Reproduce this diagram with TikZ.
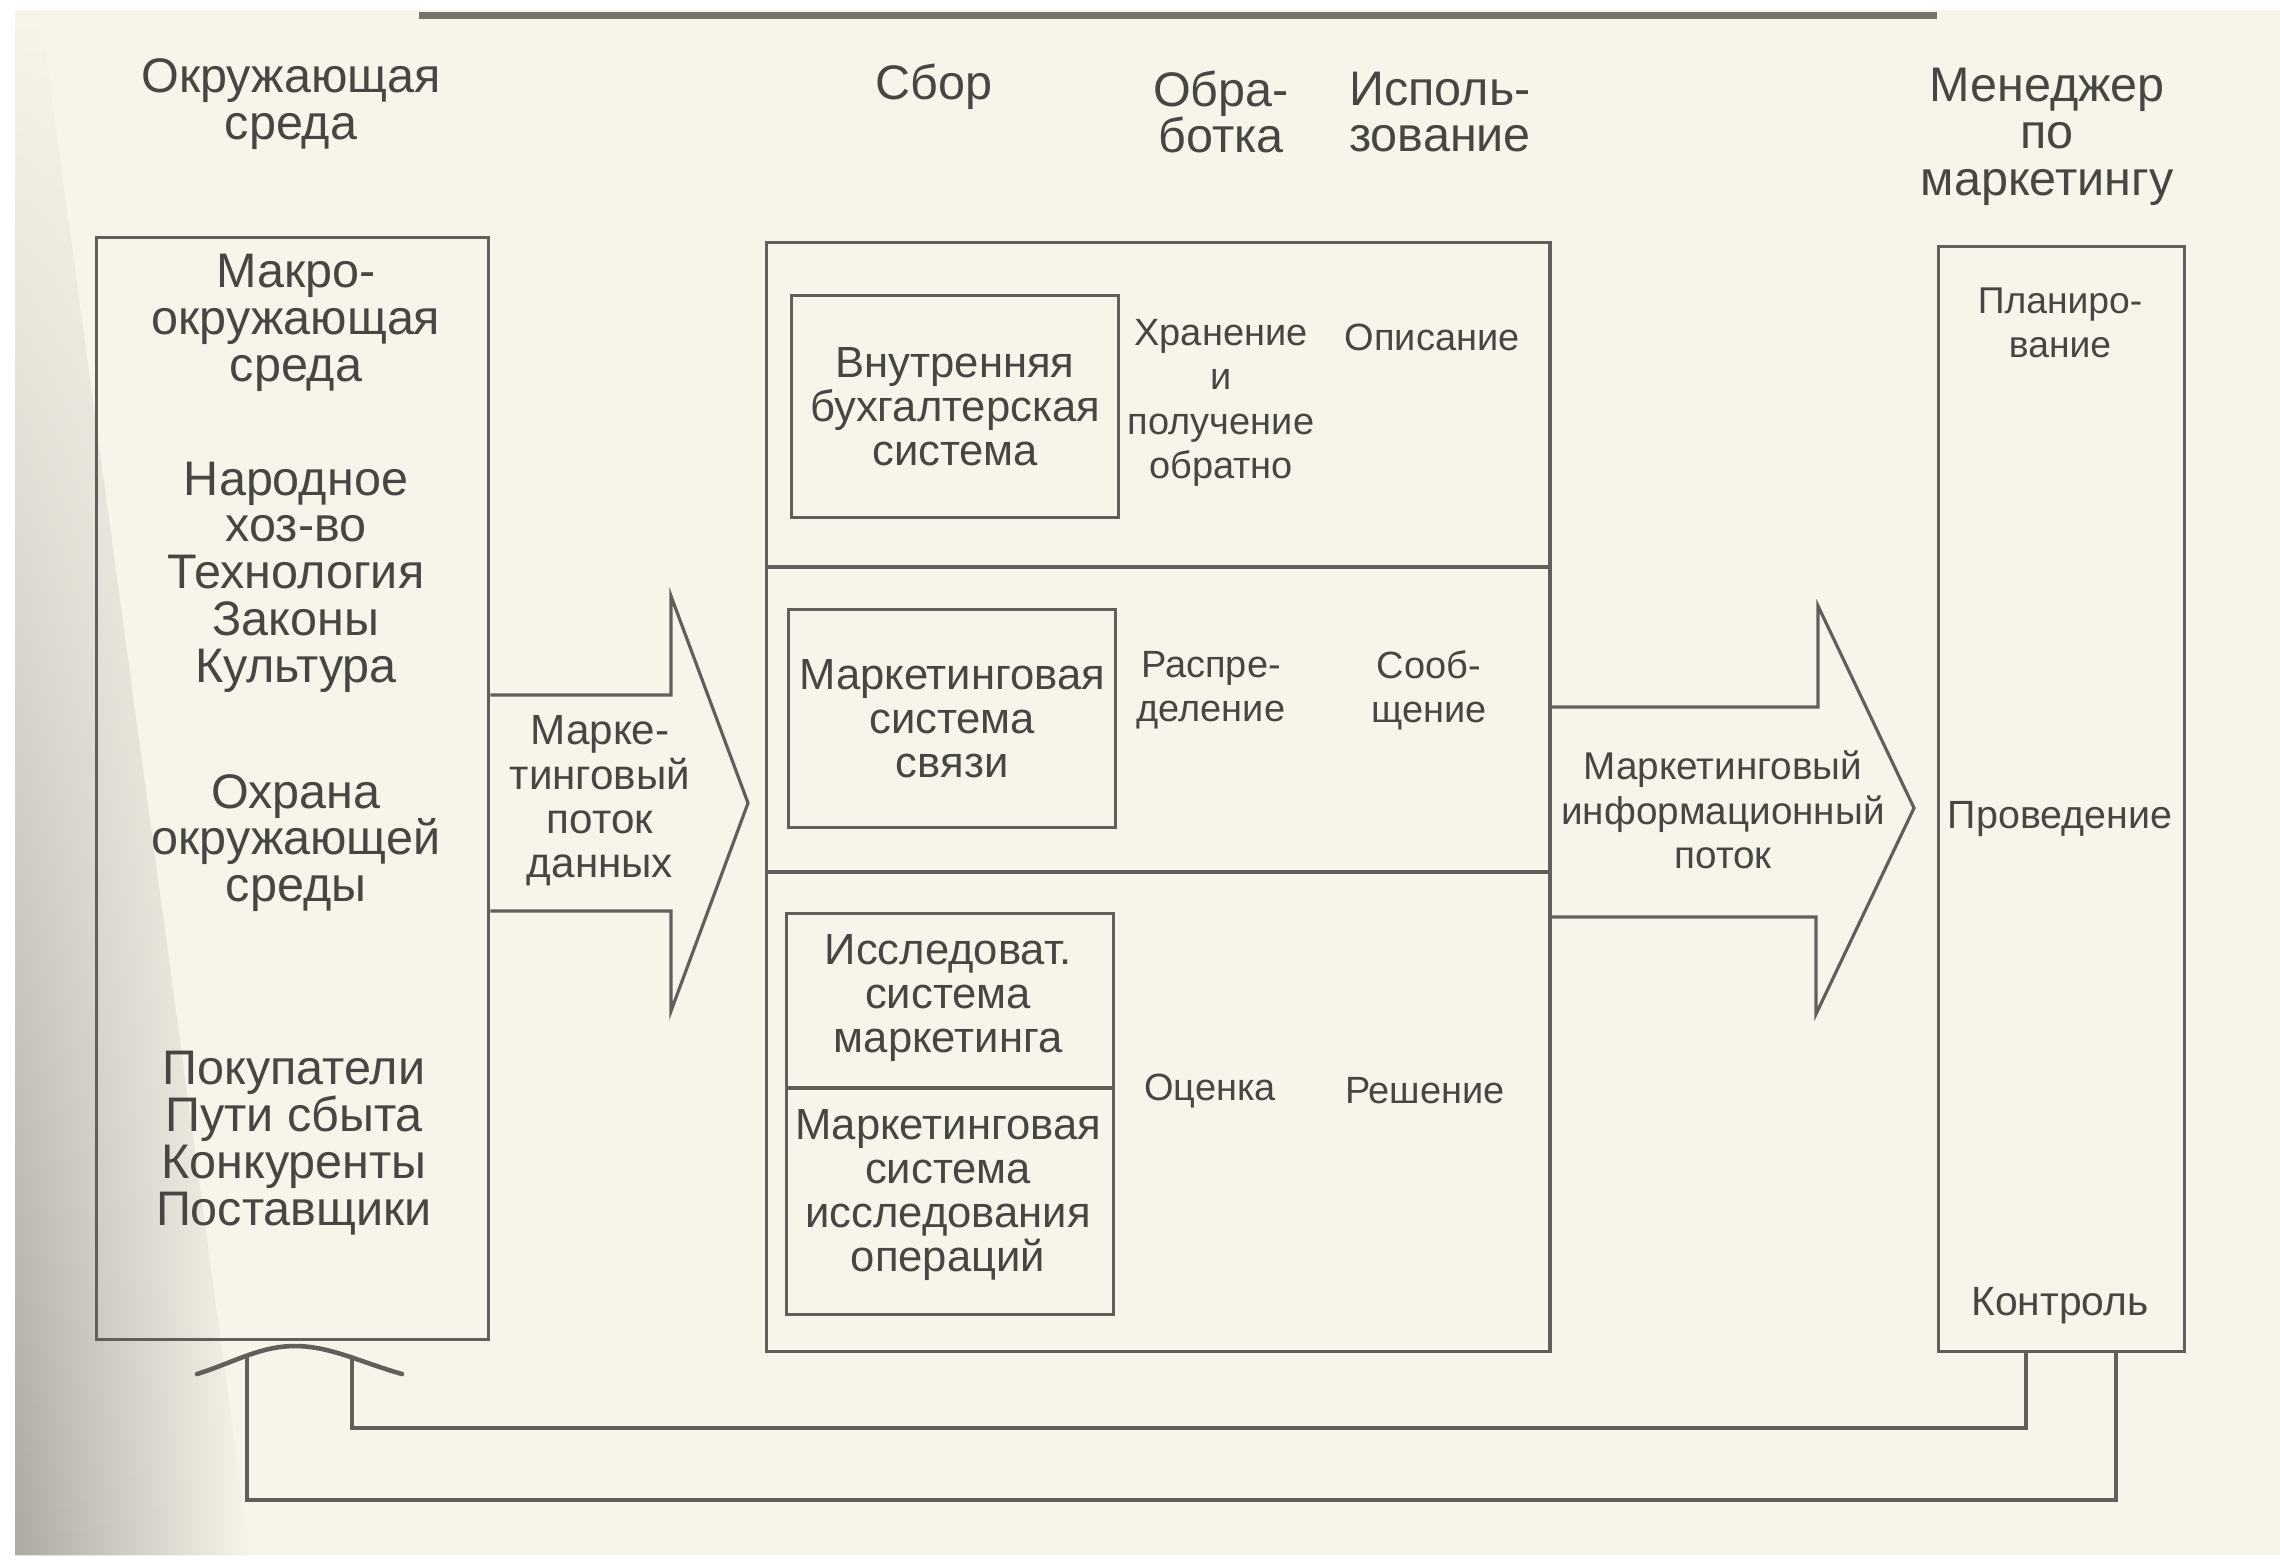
\documentclass[tikz,border=0pt]{standalone}
\usepackage{fontspec}
\setmainfont{Liberation Sans}
\usetikzlibrary{calc,fadings}
\definecolor{paper}{RGB}{247,245,234}
\definecolor{shadow}{RGB}{172,169,161}
\definecolor{ink}{RGB}{98,95,90}
\definecolor{txt}{RGB}{72,70,66}
\definecolor{bar}{RGB}{118,114,108}
% font size with a fixed, tight line pitch
\newcommand\setfs[2]{\fontsize{#1}{#2}\selectfont\lineskiplimit=-\maxdimen}
\begin{document}
\begin{tikzpicture}[x=0.01cm,y=-0.01cm,
  box/.style={draw=ink, line width=0.9pt, inner sep=0pt, anchor=north west},
  lbl/.style={text=txt, align=center, inner sep=0pt},
  big/.style={lbl, font=\setfs{13.8}{13.3}},
  mid/.style={lbl, font=\setfs{12.4}{12.6}},
  small/.style={lbl, font=\setfs{10.8}{12.6}},
  wire/.style={draw=ink, line width=0.9pt, line join=miter}]
\useasboundingbox (0,0) rectangle (2280,1562);
% paper, with the shadow of the binding growing towards the bottom
\fill[white] (0,0) rectangle (2280,1562);
\fill[paper] (15,10) rectangle (2280,1555);
\shade[left color=shadow, right color=paper, path fading=north]
  (15,10) -- (40,10) -- (250,1555) -- (15,1555) -- cycle;
\draw[bar, line width=0.07cm] (419,15) -- (1937,15);

% column headings
\node[big] (envlabel) at (291,104) {Окружающая\\среда};
\node[big] (hcollect) at (934,87) {Сбор};
\node[big] (hprocess) at (1221,112) {Обра-\\ботка};
\node[big] (huse) at (1440,112) {Исполь-\\зование};
\node[big] (hmanager) at (2047,137) {Менеджер\\по\\маркетингу};

% environment
\node[box, minimum width=3.92cm, minimum height=11.01cm] (envbox) at (95,236) {};
\node[big] (macro) at (296,323) {Макро-\\окружающая\\среда};
\node[big] (factors) at (296,577) {Народное\\хоз-во\\Технология\\Законы\\Культура};
\node[big] (ecology) at (296,843) {Охрана\\окружающей\\среды};
\node[big] (micro) at (294,1143) {Покупатели\\Пути сбыта\\Конкуренты\\Поставщики};

% marketing information system
\node[box, minimum width=7.83cm, minimum height=11.08cm] (mis) at (765,241) {};
\draw[wire] (mis.west |- 0,567) -- (mis.east |- 0,567);
\draw[wire] (mis.west |- 0,872) -- (mis.east |- 0,872);

\node[box, minimum width=3.27cm, minimum height=2.22cm] (acc) at (790,294) {};
\node[mid] (acctext) at (acc.center) {Внутренняя\\бухгалтерская\\система};
\node[box, minimum width=3.27cm, minimum height=2.18cm] (intel) at (787,608) {};
\node[mid] (inteltext) at (intel.center) {Маркетинговая\\система\\связи};
\node[box, minimum width=3.27cm, minimum height=4.01cm] (res) at (785,912) {};
\draw[wire] (res.west |- 0,1088) -- (res.east |- 0,1088);
\node[mid] (restext) at (948,998) {Исследоват.\\система\\маркетинга};
\node[mid] (opstext) at (948,1195) {Маркетинговая\\система\\исследования\\операций};

\node[small] (store) at (1221,403) {Хранение\\и\\получение\\обратно};
\node[small] (describe) at (1432,337) {Описание};
\node[small] (distrib) at (1211,690) {Распре-\\деление};
\node[small] (report) at (1429,690) {Сооб-\\щение};
\node[small] (assess) at (1210,1091) {Оценка};
\node[small] (decide) at (1425,1091) {Решение};

% marketing manager
\node[box, minimum width=2.46cm, minimum height=11.04cm] (mgr) at (1937,245) {};
\node[small, font=\setfs{10.6}{12.6}] (plan) at (2060,323) {Планиро-\\вание};
\node[small, font=\setfs{11.2}{12.6}] (exec) at (2060,819) {Проведение};
\node[small, font=\setfs{11.6}{12.6}] (ctrl) at (2060,1306) {Контроль};

% data flow from the environment
\draw[wire] (envbox.east |- 0,695) -- (671,695) -- (671,596) -- (748,803)
  -- (671,1011) -- (671,911) -- (envbox.east |- 0,911);
\node[mid, font=\setfs{12}{12.6}] (dataflow) at (600,801) {Марке-\\тинговый\\поток\\данных};

% information flow to the manager
\draw[wire] (mis.east |- 0,707) -- (1818,707) -- (1818,606) -- (1914,808)
  -- (1816,1014) -- (1816,917) -- (mis.east |- 0,917);
\node[small, font=\setfs{11}{12.6}] (infoflow) at (1723,810) {Маркетинговый\\информационный\\поток};

% feedback to the environment
\coordinate (fbinner) at (352,1357);
\coordinate (fbouter) at (247,1357);
\draw[wire] (mgr.south -| 2026,0) -- (2026,1428) -- (fbinner |- 0,1428) -- (fbinner);
\draw[wire] (mgr.south -| 2116,0) -- (2116,1500) -- (fbouter |- 0,1500) -- (fbouter);
\draw[wire, line width=1.3pt, line cap=round] (197,1374) .. controls (235,1362) and (260,1346) .. (295,1346)
  .. controls (330,1346) and (360,1362) .. (402,1374);
\end{tikzpicture}
\end{document}
